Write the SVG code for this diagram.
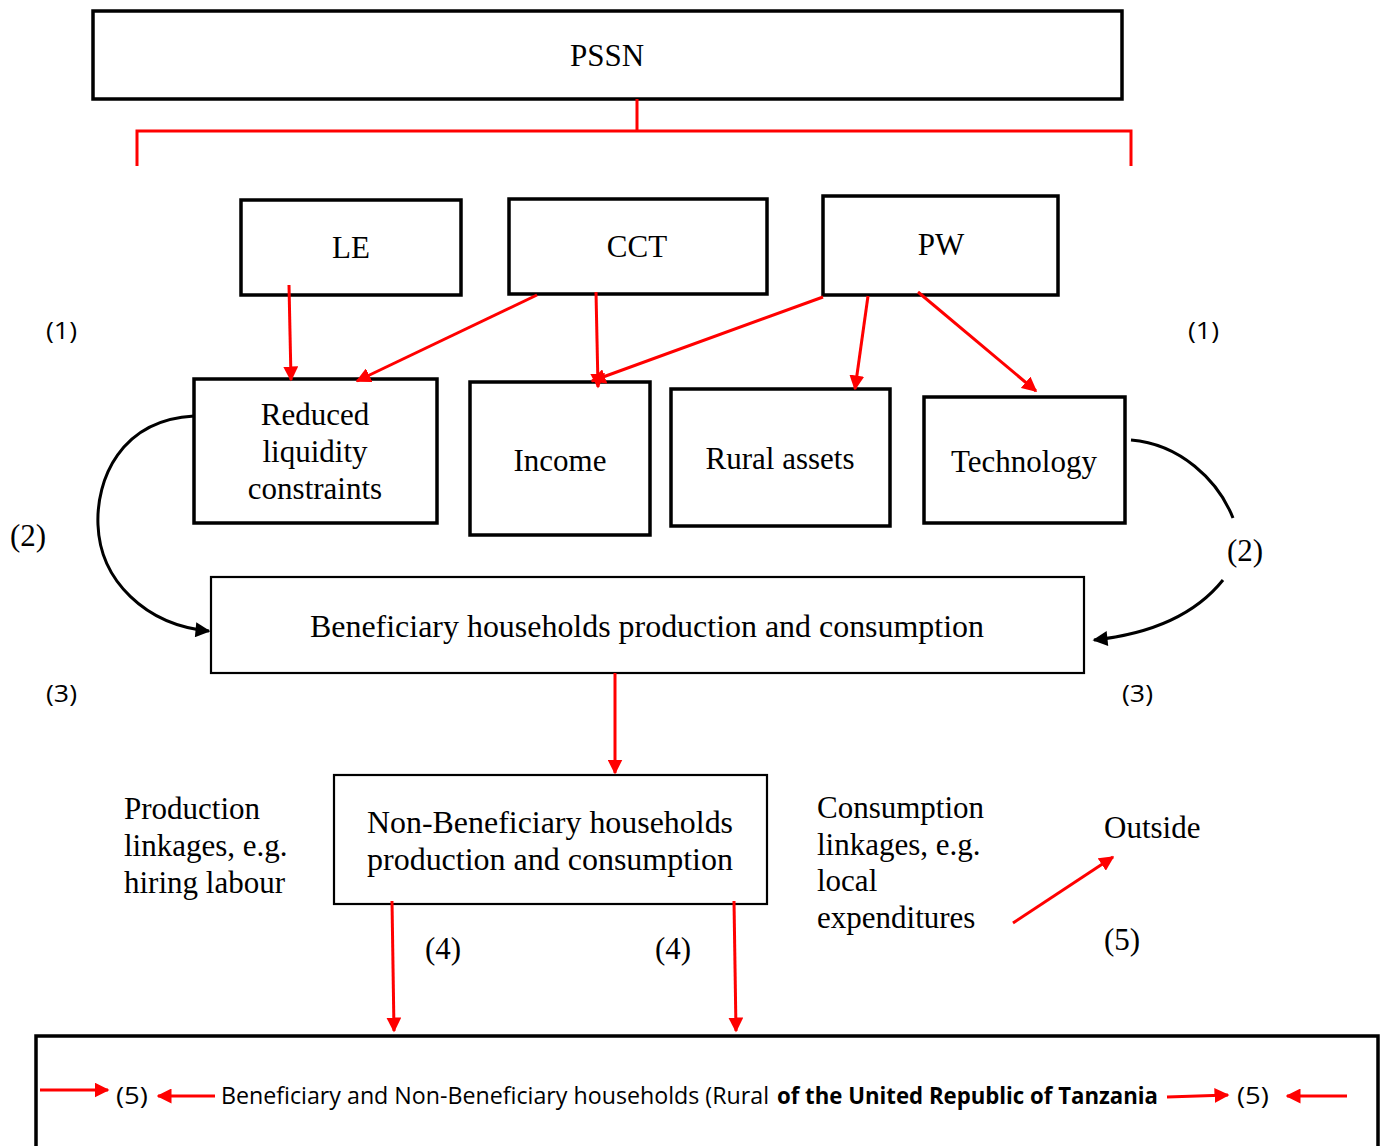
<svg xmlns="http://www.w3.org/2000/svg" width="1383" height="1146" viewBox="0 0 1383 1146">
<style>
.box{fill:#fff;stroke:#000;stroke-width:3.5}
.thin{fill:#fff;stroke:#000;stroke-width:2.2}
.red{fill:none;stroke:#f00;stroke-width:3}
.blk{fill:none;stroke:#000;stroke-width:3}
.ser{font-family:"Liberation Serif","Times New Roman",serif;font-size:31px;fill:#000}
.sans{font-family:"Open Sans","Liberation Sans",sans-serif;font-size:23px;fill:#000}
</style>
<defs>
<marker id="ra" viewBox="0 0 10 10" refX="9" refY="5" markerWidth="5" markerHeight="5" orient="auto" markerUnits="strokeWidth">
<path d="M0,0 L10,5 L0,10 z" fill="#f00"/>
</marker>
<marker id="ba" viewBox="0 0 10 10" refX="9" refY="5" markerWidth="5.5" markerHeight="5" orient="auto" markerUnits="strokeWidth">
<path d="M0,0 L10,5 L0,10 z" fill="#000"/>
</marker>
</defs>
<rect width="1383" height="1146" fill="#fff"/>
<text class="sans" x="35" y="-1" font-size="22">Tanzania</text>

<g id="pssn"><rect class="box" x="93" y="11" width="1029" height="88"/><text class="ser" x="607" y="66" text-anchor="middle" font-size="30">PSSN</text></g>
<g id="bracket"><path class="red" d="M637,99 V131 M137,166 V131 H1131 V166"/></g>
<g id="le"><rect class="box" x="241" y="200" width="220" height="95"/><text class="ser" x="351" y="258" text-anchor="middle" font-size="30">LE</text></g>
<g id="cct"><rect class="box" x="509" y="199" width="258" height="95"/><text class="ser" x="637" y="257" text-anchor="middle" font-size="30">CCT</text></g>
<g id="pw"><rect class="box" x="823" y="196" width="235" height="99"/><text class="ser" x="941" y="255" text-anchor="middle" font-size="30">PW</text></g>

<g id="rlc"><rect class="box" x="194" y="379" width="243" height="144"/>
<text class="ser" x="315" y="425" text-anchor="middle">Reduced</text>
<text class="ser" x="315" y="462" text-anchor="middle">liquidity</text>
<text class="ser" x="315" y="499" text-anchor="middle">constraints</text></g>
<g id="income"><rect class="box" x="470" y="382" width="180" height="153"/><text class="ser" x="560" y="471" text-anchor="middle">Income</text></g>
<g id="rural"><rect class="box" x="671" y="389" width="219" height="137"/><text class="ser" x="780" y="469" text-anchor="middle">Rural assets</text></g>
<g id="tech"><rect class="box" x="924" y="397" width="201" height="126"/><text class="ser" x="1024" y="472" text-anchor="middle">Technology</text></g>

<g id="bene"><rect class="thin" x="211" y="577" width="873" height="96"/><text class="ser" x="647" y="637" text-anchor="middle" textLength="674" lengthAdjust="spacingAndGlyphs">Beneficiary households production and consumption</text></g>
<g id="nonbene"><rect class="thin" x="334" y="775" width="433" height="129"/>
<text class="ser" x="367" y="833" textLength="366" lengthAdjust="spacingAndGlyphs">Non-Beneficiary households</text>
<text class="ser" x="367" y="870" textLength="366" lengthAdjust="spacingAndGlyphs">production and consumption</text></g>
<g id="bottom"><rect class="box" x="36" y="1036" width="1342" height="130"/>
<text class="sans" x="116" y="1104" textLength="32" lengthAdjust="spacingAndGlyphs">(5)</text>
<text class="sans" x="221" y="1104" textLength="548" lengthAdjust="spacingAndGlyphs">Beneficiary and Non-Beneficiary households (Rural</text>
<text class="sans" x="777" y="1104" font-weight="bold" textLength="381" lengthAdjust="spacingAndGlyphs">of the United Republic of Tanzania</text>
<text class="sans" x="1237" y="1104" textLength="32" lengthAdjust="spacingAndGlyphs">(5)</text></g>

<g id="labels">
<text class="sans" x="46" y="339" textLength="31" lengthAdjust="spacingAndGlyphs">(1)</text>
<text class="sans" x="1188" y="339" textLength="31" lengthAdjust="spacingAndGlyphs">(1)</text>
<text class="ser" x="10" y="546" font-size="30">(2)</text>
<text class="ser" x="1227" y="561" font-size="30">(2)</text>
<text class="sans" x="46" y="702" textLength="31" lengthAdjust="spacingAndGlyphs">(3)</text>
<text class="sans" x="1122" y="702" textLength="31" lengthAdjust="spacingAndGlyphs">(3)</text>
<text class="ser" x="124" y="819">Production</text>
<text class="ser" x="124" y="856">linkages, e.g.</text>
<text class="ser" x="124" y="893">hiring labour</text>
<text class="ser" x="817" y="818">Consumption</text>
<text class="ser" x="817" y="855">linkages, e.g.</text>
<text class="ser" x="817" y="891">local</text>
<text class="ser" x="817" y="928">expenditures</text>
<text class="ser" x="1104" y="838">Outside</text>
<text class="ser" x="1104" y="950">(5)</text>
<text class="ser" x="425" y="959">(4)</text>
<text class="ser" x="655" y="959">(4)</text>
</g>

<g id="connectors">
<line class="red" x1="289" y1="285" x2="291" y2="380" marker-end="url(#ra)"/>
<line class="red" x1="537" y1="295" x2="357" y2="381" marker-end="url(#ra)"/>
<line class="red" x1="596" y1="292" x2="598" y2="387" marker-end="url(#ra)"/>
<line class="red" x1="823" y1="297" x2="592" y2="381" marker-end="url(#ra)"/>
<line class="red" x1="868" y1="296" x2="855" y2="389" marker-end="url(#ra)"/>
<line class="red" x1="918" y1="292" x2="1036" y2="391" marker-end="url(#ra)"/>
<line class="red" x1="615" y1="673" x2="615" y2="773" marker-end="url(#ra)"/>
<line class="red" x1="392" y1="901" x2="394" y2="1031" marker-end="url(#ra)"/>
<line class="red" x1="734" y1="901" x2="736" y2="1031" marker-end="url(#ra)"/>
<line class="red" x1="1013" y1="923" x2="1113" y2="857" marker-end="url(#ra)"/>
<line class="red" x1="40" y1="1090" x2="108" y2="1090" marker-end="url(#ra)"/>
<line class="red" x1="215" y1="1096" x2="158" y2="1096" marker-end="url(#ra)"/>
<line class="red" x1="1167" y1="1097" x2="1228" y2="1095" marker-end="url(#ra)"/>
<line class="red" x1="1347" y1="1096" x2="1287" y2="1096" marker-end="url(#ra)"/>
<path class="blk" d="M194,416 C120,420 96,480 98,525 C100,580 145,625 209,631" marker-end="url(#ba)"/>
<path class="blk" d="M1131,440 C1180,444 1218,480 1233,518"/>
<path class="blk" d="M1223,580 C1195,615 1150,634 1094,640" marker-end="url(#ba)"/>
</g>
</svg>
